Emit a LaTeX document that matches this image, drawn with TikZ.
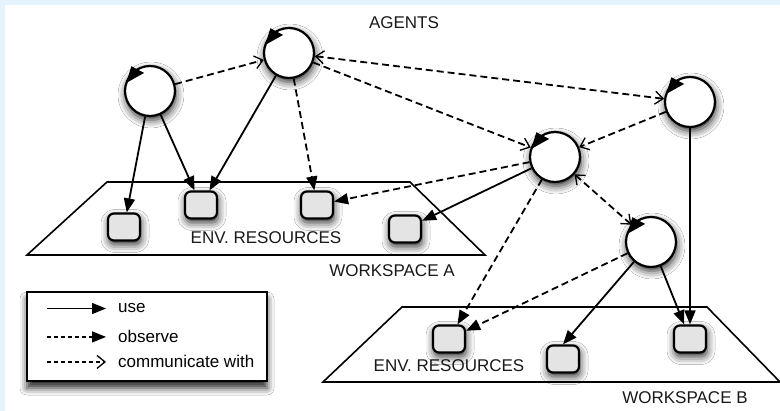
\documentclass[tikz,border=0pt]{standalone}
\usepackage{fontspec}
\setmainfont{Liberation Sans}
\usetikzlibrary{arrows.meta,shadows.blur}
\definecolor{pageback}{RGB}{228,243,254}
\definecolor{resfill}{RGB}{228,228,228}
\definecolor{labeltext}{RGB}{25,25,25}

\begin{document}
\begin{tikzpicture}[x=1pt,y=-1pt,
  font=\fontsize{17}{20}\selectfont,
  >={Straight Barb[length=8pt,width=13pt,line width=1.3pt]},
  softshadow/.style={blur shadow={shadow xshift=1pt,shadow yshift=-4pt,shadow blur radius=8pt,shadow opacity=85}},
  agent/.style={circle,draw,line width=2.2pt,fill=white,minimum size=50pt,inner sep=0pt,softshadow},
  resource/.style={draw,line width=2.2pt,fill=resfill,rounded corners=6pt,minimum width=32pt,minimum height=27pt,inner sep=0pt,softshadow},
  label/.style={text=labeltext,inner sep=0pt},
  use/.style={line width=1.8pt,-{Triangle[length=14pt,width=11pt]}},
  observe/.style={use,dash pattern=on 7pt off 4pt},
  talk/.style={line width=1.8pt,dash pattern=on 7pt off 4pt,->},
  talkboth/.style={talk,<->}]

\useasboundingbox (0,0) rectangle (780,411);
\fill[pageback] (0,0) rectangle (780,411);
\fill[white] (5,5) rectangle (780,411);

% workspaces
\draw[line width=1.6pt] (27,255) -- (107,182) -- (410,182) -- (485,255) -- cycle;
\draw[line width=1.6pt] (323,382) -- (402,307) -- (707,307) -- (780,382) -- cycle;
\node[label] (agents) at (404,23) {AGENTS};
\node[label] (envA) at (266,238) {ENV. RESOURCES};
\node[label] (wsA) at (392,271) {WORKSPACE A};
\node[label] (envB) at (449,366) {ENV. RESOURCES};
\node[label] (wsB) at (685,398) {WORKSPACE B};

% resources
\node[resource] (r1) at (124,227) {};
\node[resource] (r2) at (201,205) {};
\node[resource] (r3) at (317,205) {};
\node[resource] (r4) at (405,229) {};
\node[resource] (r5) at (449,339) {};
\node[resource] (r6) at (563,359) {};
\node[resource] (r7) at (690,339) {};

% agents
\node[agent] (a1) at (150,91) {};
\node[agent] (a2) at (289,53) {};
\node[agent] (a3) at (690,102) {};
\node[agent] (a4) at (555,157) {};
\node[agent] (a5) at (651,242) {};
\foreach \n in {a1,a2,a3,a4,a5}
  \fill ([shift={(161:25pt)}]\n.center) -- ([shift={(108:19pt)}]\n.center) -- ([shift={(127:31pt)}]\n.center) -- cycle;

% connectors
\draw[use] (a1) -- (r1);
\draw[use] (a1) -- (r2);
\draw[use] (a2) -- (r2);
\draw[observe] (a2) -- (r3);
\draw[talk] (a1) -- (a2);
\draw[talkboth] (a2) -- (a3);
\draw[talk] (a2) -- (a4);
\draw[talk] (a3) -- (a4);
\draw[talkboth] (a4) -- (a5);
\draw[observe] (a4) -- (r3);
\draw[use] (a4) -- (r4);
\draw[observe] (a4) -- (r5);
\draw[observe] (a5) -- (r5);
\draw[use] (a5) -- (r6.north);
\draw[use] (a5) -- (r7);
\draw[use] (a3) -- (r7);

% legend
\node[draw,line width=1.8pt,fill=white,minimum width=240pt,minimum height=89pt,inner sep=0pt,
  blur shadow={shadow xshift=0pt,shadow yshift=-7pt,shadow blur radius=7pt,shadow opacity=85}] (legend) at (147,336.5) {};
\node[anchor=base west,inner sep=0pt] (luse) at (118,313) {use};
\node[anchor=base west,inner sep=0pt] (lobserve) at (118,343) {observe};
\node[anchor=base west,inner sep=0pt] (ltalk) at (118,368) {communicate with};
\draw[use,line width=1.3pt] ([xshift=-71pt]luse.west) -- ([xshift=-12pt]luse.west);
\draw[use,line width=1.3pt,dash pattern=on 4pt off 3pt] ([xshift=-71pt]lobserve.west) -- ([xshift=-12pt]lobserve.west);
\draw[talk,line width=1.3pt,dash pattern=on 4pt off 3pt] ([xshift=-71pt]ltalk.west) -- ([xshift=-12pt]ltalk.west);
\end{tikzpicture}
\end{document}
